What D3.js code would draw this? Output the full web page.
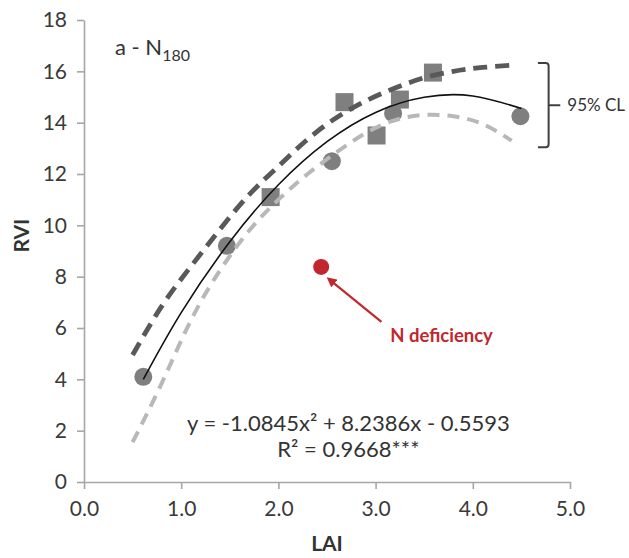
<!DOCTYPE html>
<html>
<head>
<meta charset="utf-8">
<script src="https://cdn.jsdelivr.net/npm/d3@7/dist/d3.min.js"></script>
<style>
  html, body { margin: 0; padding: 0; background: #fff; }
  svg { display: block; font-family: Lato, "Open Sans", sans-serif; }
</style>
</head>
<body>
<svg id="chart" width="629" height="558"></svg>
<script>
// ---- data ----
const xTicks = [0, 1, 2, 3, 4, 5];
const yTicks = [0, 2, 4, 6, 8, 10, 12, 14, 16, 18];

const circleX = [0.61, 1.47, 2.55, 3.18, 4.49];
const circleY = [4.1, 9.2, 12.5, 14.36, 14.25];

const squareX = [1.92, 2.68, 3.01, 3.25, 3.59];
const squareY = [11.1, 14.8, 13.5, 14.9, 15.95];

const deficientX = [2.44];
const deficientY = [8.38];

const fitX = [0.61, 1.0, 1.5, 2.0, 2.5, 3.0, 3.5, 4.0, 4.5];
const fitY = [4.0, 6.6, 9.36, 11.58, 13.26, 14.4, 14.99, 15.04, 14.55];

const upperX = [0.5, 0.8, 1.1, 1.4, 1.7, 2.0, 2.3, 2.6, 2.9, 3.2, 3.5, 3.8, 4.1, 4.45];
const upperY = [4.95, 6.85, 8.4, 9.85, 11.2, 12.3, 13.35, 14.2, 14.85, 15.35, 15.75, 16.0, 16.15, 16.25];

const lowerX = [0.5, 0.8, 1.1, 1.4, 1.7, 2.0, 2.3, 2.6, 2.9, 3.2, 3.5, 3.8, 4.1, 4.4];
const lowerY = [1.55, 3.85, 6.3, 8.25, 9.8, 11.0, 12.0, 12.85, 13.6, 14.1, 14.3, 14.25, 13.95, 13.3];

const equationText = ["y = -1.0845x² + 8.2386x - 0.5593", "R² = 0.9668***"];

// ---- layout ----
const W = 629, H = 558;
const margin = { left: 84, right: 59, top: 20, bottom: 76 };
const svg = d3.select("#chart");

const x = d3.scaleLinear().domain([0, 5]).range([margin.left, W - margin.right]);
const y = d3.scaleLinear().domain([0, 18]).range([H - margin.bottom, margin.top]);

const axisColor = "#a6a6a6";
const textColor = "#3a3a3a";

// Axes
const xAxis = svg.append("g")
  .attr("transform", `translate(0,${y(0)})`)
  .call(d3.axisBottom(x).tickValues(xTicks).tickFormat(d3.format(".1f")).tickSize(7).tickSizeOuter(0).tickPadding(12));
const yAxis = svg.append("g")
  .attr("transform", `translate(${x(0)},0)`)
  .call(d3.axisLeft(y).tickValues(yTicks).tickFormat(d3.format("d")).tickSize(7).tickSizeOuter(0).tickPadding(10));

[xAxis, yAxis].forEach(g => {
  g.select(".domain").attr("stroke", axisColor).attr("stroke-width", 1.6);
  g.selectAll(".tick line").attr("stroke", axisColor).attr("stroke-width", 1.6);
  g.selectAll(".tick text").attr("fill", textColor).style("font-size", "21px").style("font-family", "Lato, sans-serif");
});

// Axis titles
svg.append("text")
  .attr("x", (x(0) + x(5)) / 2).attr("y", 551)
  .attr("text-anchor", "middle")
  .attr("fill", "#333").style("font-size", "21px").style("font-weight", "bold")
  .text("LAI");

svg.append("text")
  .attr("transform", `translate(29,${y(9.6)}) rotate(-90)`)
  .attr("text-anchor", "middle")
  .attr("fill", "#333").style("font-size", "21px").style("font-weight", "bold")
  .text("RVI");

// Panel label
const title = svg.append("text")
  .attr("x", 115).attr("y", 55)
  .attr("fill", "#333").style("font-size", "22px");
title.append("tspan").text("a - N");
title.append("tspan").attr("dy", 6).style("font-size", "16px").text("180");

// Markers
const markerColor = "#7f7f7f";
svg.append("g").selectAll("circle.obs")
  .data(circleX.map((d, i) => [d, circleY[i]]))
  .join("circle")
  .attr("cx", d => x(d[0])).attr("cy", d => y(d[1]))
  .attr("r", 9).attr("fill", markerColor);

const sq = 18;
svg.append("g").selectAll("rect.obs")
  .data(squareX.map((d, i) => [d, squareY[i]]))
  .join("rect")
  .attr("x", d => x(d[0]) - sq / 2).attr("y", d => y(d[1]) - sq / 2)
  .attr("width", sq).attr("height", sq).attr("fill", markerColor);

// Lines
const line = d3.line().x(d => x(d[0])).y(d => y(d[1])).curve(d3.curveNatural);

svg.append("path")
  .datum(upperX.map((d, i) => [d, upperY[i]]))
  .attr("d", line).attr("fill", "none")
  .attr("stroke", "#595959").attr("stroke-width", 4.8)
  .attr("stroke-dasharray", "14,8");

svg.append("path")
  .datum(lowerX.map((d, i) => [d, lowerY[i]]))
  .attr("d", line).attr("fill", "none")
  .attr("stroke", "#b8b8b8").attr("stroke-width", 4)
  .attr("stroke-dasharray", "12,8");

svg.append("path")
  .datum(fitX.map((d, i) => [d, fitY[i]]))
  .attr("d", line).attr("fill", "none")
  .attr("stroke", "#111").attr("stroke-width", 1.6);

// N deficiency point and annotation
const red = "#c1272d";
svg.append("defs").append("marker")
  .attr("id", "arrow").attr("viewBox", "0 0 10 10")
  .attr("refX", 2).attr("refY", 5)
  .attr("markerWidth", 4.5).attr("markerHeight", 4.5)
  .attr("orient", "auto-start-reverse")
  .append("path").attr("d", "M0,0 L10,5 L0,10 z").attr("fill", red);

svg.append("g").selectAll("circle.def")
  .data(deficientX.map((d, i) => [d, deficientY[i]]))
  .join("circle")
  .attr("cx", d => x(d[0])).attr("cy", d => y(d[1]))
  .attr("r", 8).attr("fill", red);

svg.append("line")
  .attr("x1", x(3.06)).attr("y1", y(6.24))
  .attr("x2", x(2.56)).attr("y2", y(7.78))
  .attr("stroke", red).attr("stroke-width", 2.2)
  .attr("marker-end", "url(#arrow)");

svg.append("text")
  .attr("x", x(3.15)).attr("y", 342)
  .attr("fill", red).style("font-size", "18.5px").style("font-weight", "bold")
  .text("N deficiency");

// 95% CL bracket
const bx0 = x(4.67), bx1 = x(4.78), bx2 = x(4.9);
const byTop = y(16.32), byBot = y(13.04), byMid = (byTop + byBot) / 2;
svg.append("path")
  .attr("d", `M${bx0},${byTop} H${bx1 - 3} Q${bx1},${byTop} ${bx1},${byTop + 3} V${byBot - 3} Q${bx1},${byBot} ${bx1 - 3},${byBot} H${bx0} M${bx1},${byMid} H${bx2}`)
  .attr("fill", "none").attr("stroke", "#404040").attr("stroke-width", 2);
svg.append("text")
  .attr("x", bx2 + 7).attr("y", byMid + 6)
  .attr("fill", "#333").style("font-size", "17px")
  .text("95% CL");

// Equation
svg.append("text")
  .attr("x", x(2.72)).attr("y", 431)
  .attr("text-anchor", "middle").attr("fill", "#333").style("font-size", "22px")
  .text(equationText[0]);
svg.append("text")
  .attr("x", x(2.72)).attr("y", 457)
  .attr("text-anchor", "middle").attr("fill", "#333").style("font-size", "22px")
  .text(equationText[1]);
</script>
</body>
</html>
